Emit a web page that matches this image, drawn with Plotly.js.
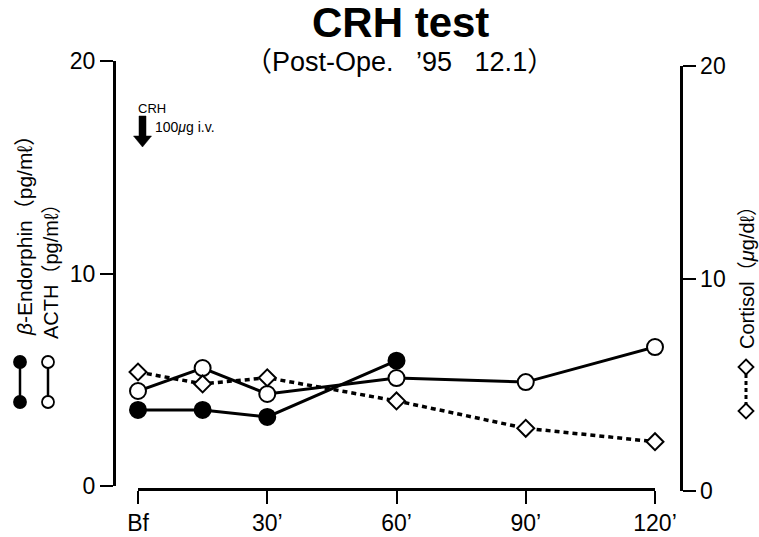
<!DOCTYPE html>
<html>
<head>
<meta charset="utf-8">
<script src="https://cdn.plot.ly/plotly-3.0.1.min.js"></script>
<style>html,body{margin:0;padding:0;background:#fff;}#chart{width:759px;height:537px;}</style>
</head>
<body>
<div id="chart"></div>
<script>
// ---- data ----
const xTickVals = [0, 30, 60, 90, 120];
const xTickText = ["Bf", "30’", "60’", "90’", "120’"];
const betaTimes = [0, 15, 30, 60];
const betaEndorphin = [3.58, 3.58, 3.25, 5.9];
const acthTimes = [0, 15, 30, 60, 90, 120];
const acth = [4.47, 5.55, 4.33, 5.08, 4.89, 6.54];
const cortisolTimes = [0, 15, 30, 60, 90, 120];
const cortisol = [5.6, 5.04, 5.33, 4.24, 2.95, 2.32];
const yTickVals = [0, 10, 20];

// ---- layout helpers (pixel -> paper) ----
const W = 759, H = 537;
const M = {l: 60, r: 60, t: 50, b: 37};
const PW = W - M.l - M.r, PH = H - M.t - M.b;
const px = x => (x - M.l) / PW;
const py = y => (H - M.b - y) / PH;
const FONT = "Liberation Sans, Arial, Helvetica, Noto Sans CJK JP, sans-serif";

const traces = [
  {
    x: cortisolTimes, y: cortisol, xaxis: 'x', yaxis: 'y2', mode: 'lines+markers',
    line: {color: 'black', width: 3.5, dash: '5px,4px'},
    marker: {symbol: 'diamond', size: 13, color: 'white', line: {color: 'black', width: 2}},
    cliponaxis: false, hoverinfo: 'skip'
  },
  {
    x: acthTimes, y: acth, xaxis: 'x', yaxis: 'y', mode: 'lines+markers',
    line: {color: 'black', width: 3},
    marker: {symbol: 'circle', size: 16, color: 'white', line: {color: 'black', width: 2}},
    cliponaxis: false, hoverinfo: 'skip'
  },
  {
    x: betaTimes, y: betaEndorphin, xaxis: 'x', yaxis: 'y', mode: 'lines+markers',
    line: {color: 'black', width: 3},
    marker: {symbol: 'circle', size: 16, color: 'black', line: {color: 'black', width: 2}},
    cliponaxis: false, hoverinfo: 'skip'
  }
];

// legend glyph helpers (decorations, pixel positions)
function circleShape(cx, cy, r, filled) {
  return {type: 'circle', xref: 'paper', yref: 'paper',
    x0: px(cx - r), x1: px(cx + r), y0: py(cy + r), y1: py(cy - r),
    fillcolor: filled ? 'black' : 'white', line: {color: 'black', width: 1.8}, layer: 'above'};
}
function lineShape(x0, y0, x1, y1, w, dash) {
  return {type: 'line', xref: 'paper', yref: 'paper', x0: px(x0), y0: py(y0), x1: px(x1), y1: py(y1),
    line: {color: 'black', width: w, dash: dash || 'solid'}, layer: 'above'};
}
function pathShape(pts, fill) {
  const d = pts.map((p, i) => (i ? 'L' : 'M') + px(p[0]) + ',' + py(p[1])).join(' ') + ' Z';
  return {type: 'path', xref: 'paper', yref: 'paper', path: d,
    fillcolor: fill, line: {color: 'black', width: fill === 'black' ? 0.5 : 1.8}, layer: 'above'};
}
function diamondShape(cx, cy, r) {
  return pathShape([[cx, cy - r], [cx + r, cy], [cx, cy + r], [cx - r, cy]], 'white');
}

const shapes = [
  lineShape(20, 362, 20, 402, 2.5), circleShape(20, 362, 6, true), circleShape(20, 402, 6, true),
  lineShape(48, 362, 48, 402, 2.5), circleShape(48, 362, 6, false), circleShape(48, 402, 6, false),
  lineShape(746, 367, 746, 411, 3, '4px,3px'), diamondShape(746, 367, 7.5), diamondShape(746, 411, 7.5),
  // CRH arrow
  pathShape([[139, 116], [146, 116], [146, 136], [151.5, 136], [142.5, 147], [133.5, 136], [139, 136]], 'black')
];

const annotations = [
  {text: '<b>CRH test</b>', xref: 'paper', yref: 'paper', x: px(400), y: py(22), xanchor: 'center', yanchor: 'middle',
   showarrow: false, font: {family: FONT, size: 42, color: 'black'}},
  {text: '（Post-Ope.&nbsp;&nbsp;&nbsp;’95&nbsp;&nbsp;&nbsp;12.1）', xref: 'paper', yref: 'paper', x: px(399), y: py(62), xanchor: 'center', yanchor: 'middle',
   showarrow: false, font: {family: FONT, size: 27, color: 'black'}},
  {text: 'CRH', xref: 'paper', yref: 'paper', x: px(136), y: py(108), xanchor: 'left', yanchor: 'middle',
   showarrow: false, font: {family: FONT, size: 13, color: 'black'}},
  {text: '100<i>μ</i>g i.v.', xref: 'paper', yref: 'paper', x: px(153), y: py(127), xanchor: 'left', yanchor: 'middle',
   showarrow: false, font: {family: FONT, size: 14, color: 'black'}},
  {text: '<i>β</i>-Endorphin（pg/mℓ）', xref: 'paper', yref: 'paper', x: px(24), y: py(231), xanchor: 'center', yanchor: 'middle',
   textangle: -90, showarrow: false, font: {family: FONT, size: 21, color: 'black'}},
  {text: 'ACTH（pg/mℓ）', xref: 'paper', yref: 'paper', x: px(51), y: py(267), xanchor: 'center', yanchor: 'middle',
   textangle: -90, showarrow: false, font: {family: FONT, size: 20, color: 'black'}},
  {text: 'Cortisol（<i>μ</i>g/dℓ）', xref: 'paper', yref: 'paper', x: px(747), y: py(273), xanchor: 'center', yanchor: 'middle',
   textangle: -90, showarrow: false, font: {family: FONT, size: 20, color: 'black'}}
];

const axisCommon = {
  ticks: 'outside', ticklen: 13, tickwidth: 2, tickcolor: 'black',
  showline: true, linewidth: 2.5, linecolor: 'black',
  showgrid: false, zeroline: false, fixedrange: true,
  tickfont: {family: FONT, size: 23, color: 'black'}
};

const layout = {
  width: W, height: H,
  margin: M,
  paper_bgcolor: 'white', plot_bgcolor: 'rgba(0,0,0,0)',
  showlegend: false,
  font: {family: FONT, color: 'black'},
  xaxis: Object.assign({}, axisCommon, {
    domain: [px(138), px(655)], anchor: 'free', position: py(489),
    range: [0, 120], tickmode: 'array', tickvals: xTickVals, ticktext: xTickText
  }),
  yaxis: Object.assign({}, axisCommon, {
    domain: [py(486), py(61)], anchor: 'free', position: px(114), side: 'left',
    range: [0, 20], tickmode: 'array', tickvals: yTickVals
  }),
  yaxis2: Object.assign({}, axisCommon, {
    domain: [py(491), py(66)], anchor: 'free', position: px(681), side: 'right',
    range: [0, 20], tickmode: 'array', tickvals: yTickVals
  }),
  shapes: shapes,
  annotations: annotations
};

Plotly.newPlot('chart', traces, layout, {displayModeBar: false, staticPlot: true});
</script>
</body>
</html>
